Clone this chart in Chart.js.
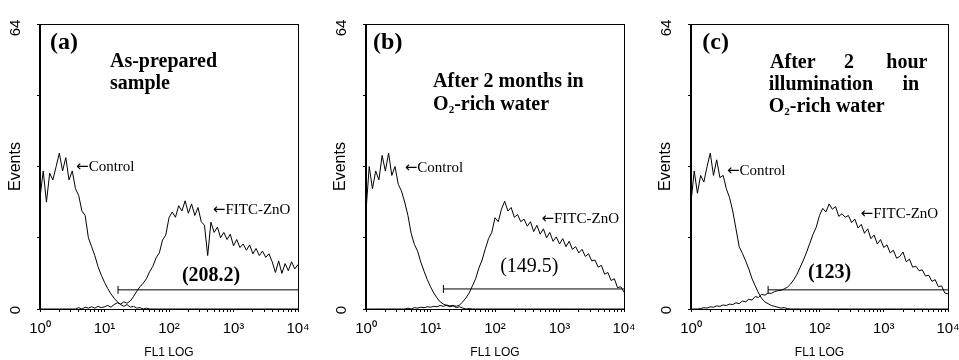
<!DOCTYPE html>
<html>
<head>
<meta charset="utf-8">
<title>FITC-ZnO flow cytometry</title>
<script src="https://cdn.jsdelivr.net/npm/chart.js@4.4.1/dist/chart.umd.min.js"></script>
<style>
  html, body { margin: 0; padding: 0; background: #fff; }
  body { width: 959px; height: 360px; overflow: hidden; position: relative; }
  .panel { position: absolute; top: 0; width: 320px; height: 360px; }
</style>
</head>
<body>
<div class="panel" style="left:0px"><canvas id="panel-a" width="320" height="360"></canvas></div>
<div class="panel" style="left:325px"><canvas id="panel-b" width="320" height="360"></canvas></div>
<div class="panel" style="left:650px"><canvas id="panel-c" width="320" height="360"></canvas></div>
<script>
// FL1 channel positions, in decades (0 = 10^0 ... 4 = 10^4)
const fl1Log = [
  0.00, 0.05, 0.10, 0.15, 0.20, 0.25, 0.30, 0.35, 0.40, 0.45,
  0.50, 0.55, 0.60, 0.65, 0.70, 0.75, 0.80, 0.85, 0.90, 0.95,
  1.00, 1.05, 1.10, 1.15, 1.20, 1.25, 1.30, 1.35, 1.40, 1.45,
  1.50, 1.55, 1.60, 1.65, 1.70, 1.75, 1.80, 1.85, 1.90, 1.95,
  2.00, 2.05, 2.10, 2.15, 2.20, 2.25, 2.30, 2.35, 2.40, 2.45,
  2.50, 2.55, 2.60, 2.65, 2.70, 2.75, 2.80, 2.85, 2.90, 2.95,
  3.00, 3.05, 3.10, 3.15, 3.20, 3.25, 3.30, 3.35, 3.40, 3.45,
  3.50, 3.55, 3.60, 3.65, 3.70, 3.75, 3.80, 3.85, 3.90, 3.95,
  4.00
];
const decadeLabels = ['10⁰', '10¹', '10²', '10³', '10⁴'];
const eventTicks = [0, 16, 32, 48, 64];

// (a) as-prepared sample
const controlA = [
  25, 31, 24, 30.5, 29, 32, 35, 31, 34, 29,
  31, 27, 25.5, 22, 21, 16, 14, 12, 9.5, 7.6,
  6.0, 4.6, 3.4, 2.4, 1.6, 1.0, 0.6, 1.0, 0.4, 0.6,
  0.2, 0.3, 0, 0.2, 0, 0, 0, 0, 0, 0,
  0, 0, 0, 0, 0, 0, 0, 0, 0, 0,
  0, 0, 0, 0, 0, 0, 0, 0, 0, 0,
  0, 0, 0, 0, 0, 0, 0, 0, 0, 0,
  0, 0, 0, 0, 0, 0, 0, 0, 0, 0,
  0
];
const fitcA = [
  0, 0, 0, 0, 0, 0, 0, 0, 0, 0,
  0, 0, 0.3, 0, 0.4, 0.2, 0.5, 0.2, 0.6, 0.3,
  0.5, 0.8, 0.4, 1.0, 1.4, 1.1, 1.6, 1.3, 1.8, 2.8,
  4.0, 5.0, 5.8, 6.8, 8.4, 9.6, 11.5, 12.6, 15.5, 16.6,
  20.5, 21.8, 20.6, 23.2, 22.0, 24.3, 21.5, 23.6, 21.0, 22.8,
  19.6, 18.8, 12.0, 19.5, 17.2, 18.4, 16.0, 17.2, 15.6, 16.8,
  14.2, 15.6, 13.8, 14.6, 13.2, 14.4, 12.4, 13.6, 12.0, 13.0,
  11.6, 12.4, 10.6, 8.2, 10.8, 8.0, 10.2, 8.6, 10.6, 9.0,
  10.0
];

// (b) after 2 months in O2-rich water
const controlB = [
  22, 32, 27, 31, 29, 34.5, 31, 35, 30, 32,
  28, 26.5, 24, 21, 17, 14.5, 13, 10.5, 8.5, 6.6,
  5.0, 3.6, 2.5, 1.6, 1.1, 0.8, 0.5, 0.7, 0.3, 0.5,
  0.2, 0, 0.1, 0, 0, 0, 0, 0, 0, 0,
  0, 0, 0, 0, 0, 0, 0, 0, 0, 0,
  0, 0, 0, 0, 0, 0, 0, 0, 0, 0,
  0, 0, 0, 0, 0, 0, 0, 0, 0, 0,
  0, 0, 0, 0, 0, 0, 0, 0, 0, 0,
  0
];
const fitcB = [
  0, 0, 0, 0, 0, 0, 0, 0, 0, 0,
  0, 0, 0, 0.2, 0, 0.3, 0.2, 0.4, 0.3, 0.5,
  0.4, 0.6, 0.5, 0.8, 0.6, 0.9, 0.7, 0.8, 0.6, 0.9,
  1.6, 2.5, 3.6, 5.2, 6.8, 9.2, 11.0, 13.5, 15.8, 17.2,
  20.5, 19.6, 22.4, 24.2, 22.0, 22.8, 20.6, 21.2, 19.6, 20.2,
  18.6, 19.6, 17.4, 18.8, 16.8, 18.0, 16.0, 17.2, 15.2, 16.2,
  14.6, 15.8, 14.0, 15.2, 13.4, 14.0, 12.6, 13.4, 11.8, 12.4,
  10.8, 11.0, 9.4, 9.8, 7.8, 8.2, 6.4, 6.8, 4.8, 5.0,
  3.8
];

// (c) after 2 hour illumination in O2-rich water
const controlC = [
  24, 31, 26, 30, 28.5, 32, 35, 30, 33.5, 29.5,
  30, 27, 25, 22, 18, 14, 12.5, 10.8, 9.0, 6.8,
  5.2, 3.6, 2.4, 1.6, 1.2, 0.8, 0.6, 0.4, 0.2, 0.3,
  0.1, 0, 0, 0, 0, 0, 0, 0, 0, 0,
  0, 0, 0, 0, 0, 0, 0, 0, 0, 0,
  0, 0, 0, 0, 0, 0, 0, 0, 0, 0,
  0, 0, 0, 0, 0, 0, 0, 0, 0, 0,
  0, 0, 0, 0, 0, 0, 0, 0, 0, 0,
  0
];
const fitcC = [
  0, 0, 0, 0.1, 0.3, 0.2, 0.5, 0.4, 0.7, 0.6,
  0.9, 0.8, 1.1, 1.0, 1.4, 1.2, 1.8, 1.6, 2.2, 2.0,
  2.8, 2.6, 3.3, 3.1, 3.6, 3.5, 3.9, 4.1, 4.2, 4.5,
  4.9, 5.6, 6.6, 7.8, 9.4, 11.0, 12.8, 14.8, 16.8, 18.4,
  21.0, 22.6, 21.8, 23.6, 22.4, 23.0, 20.8, 21.4, 20.6, 21.0,
  19.4, 20.2, 18.2, 19.0, 17.0, 18.0, 15.8, 16.6, 14.6, 15.6,
  13.8, 14.4, 12.6, 13.2, 11.4, 11.8, 12.8, 10.6, 11.2, 9.4,
  9.6, 8.6, 8.8, 7.4, 7.6, 6.2, 6.6, 5.0, 5.2, 3.6,
  3.4
];

// M1 gate markers: start (decades), height (events), mean value label
const gateStart = [1.21, 1.2, 1.2];
const gateLevel = [4.3, 4.5, 4.3];
const gateLabels = ['(208.2)', '(149.5)', '(123)'];

const serifBold = (size) => `bold ${size}px "Liberation Serif"`;
const serif = (size) => `${size}px "Liberation Serif"`;
const sans = 'Liberation Sans';
const arrowFont = '15px "DejaVu Sans"';

const panels = [
  {
    id: 'panel-a', left: 40, right: 22, control: controlA, fitc: fitcA,
    notes: [
      { text: ['(a)'], x: 0.155, y: 59.7, font: serifBold(24) },
      { text: ['As-prepared'], x: 1.085, y: 55.5, font: serifBold(20) },
      { text: ['sample'], x: 1.085, y: 50.5, font: serifBold(20) },
      { text: ['←', 'Control'], x: 0.56, y: 31.9, font: serif(15) },
      { text: ['←', 'FITC-ZnO'], x: 2.68, y: 22.2, font: serif(15) },
      { text: [gateLabels[0]], x: 2.2, y: 7.4, font: serifBold(20) }
    ]
  },
  {
    id: 'panel-b', left: 41, right: 21, control: controlB, fitc: fitcB,
    notes: [
      { text: ['(b)'], x: 0.11, y: 59.7, font: serifBold(24) },
      { text: ['After 2 months in'], x: 1.04, y: 51, font: serifBold(20) },
      { text: ['O', '_2', '-rich water'], x: 1.04, y: 45.8, font: serifBold(20) },
      { text: ['←', 'Control'], x: 0.6, y: 31.7, font: serif(15) },
      { text: ['←', 'FITC-ZnO'], x: 2.72, y: 20.2, font: serif(15) },
      { text: [gateLabels[1]], x: 2.08, y: 9.4, font: serif(20) }
    ]
  },
  {
    id: 'panel-c', left: 41, right: 22, control: controlC, fitc: fitcC,
    notes: [
      { text: ['(c)'], x: 0.175, y: 59.7, font: serifBold(24) },
      { text: ['After'], x: 1.23, y: 55.2, font: serifBold(20) },
      { text: ['2'], x: 2.38, y: 55.2, font: serifBold(20) },
      { text: ['hour'], x: 3.04, y: 55.2, font: serifBold(20) },
      { text: ['illumination'], x: 1.21, y: 50.3, font: serifBold(20) },
      { text: ['in'], x: 3.29, y: 50.3, font: serifBold(20) },
      { text: ['O', '_2', '-rich water'], x: 1.21, y: 45.4, font: serifBold(20) },
      { text: ['←', 'Control'], x: 0.56, y: 31, font: serif(15) },
      { text: ['←', 'FITC-ZnO'], x: 2.64, y: 21.3, font: serif(15) },
      { text: [gateLabels[2]], x: 1.82, y: 8.1, font: serifBold(20) }
    ]
  }
];

// frame, rotated 0/64 labels and the text notes
const notesPlugin = {
  id: 'flowNotes',
  afterDatasetsDraw(chart, args, opts) {
    const { ctx, chartArea, scales } = chart;
    ctx.save();
    ctx.strokeStyle = '#000';
    ctx.lineWidth = 1;
    ctx.strokeRect(chartArea.left + 0.5, chartArea.top + 0.5, chartArea.width, chartArea.height);
    ctx.lineWidth = 2;
    ctx.beginPath();
    ctx.moveTo(chartArea.left, chartArea.top);
    ctx.lineTo(chartArea.left, chartArea.bottom + 1);
    ctx.stroke();

    ctx.fillStyle = '#000';
    ctx.font = `15px "${sans}"`;
    ctx.textAlign = 'center';
    ctx.textBaseline = 'middle';
    [[64, 4], [0, 1]].forEach(([v, shift]) => {
      ctx.save();
      ctx.translate(chartArea.left - 24, scales.y.getPixelForValue(v) + shift);
      ctx.rotate(-Math.PI / 2);
      ctx.fillText(String(v), 0, 0);
      ctx.restore();
    });

    ctx.textAlign = 'left';
    opts.items.forEach(note => {
      let x = scales.x.getPixelForValue(note.x);
      const y = scales.y.getPixelForValue(note.y);
      note.text.forEach(part => {
        let str = part;
        let dy = 0;
        if (part === '←') {
          ctx.font = arrowFont;
        } else if (part.startsWith('_')) {
          str = part.slice(1);
          dy = 5;
          ctx.font = note.font.replace(/\d+px/, '11px');
        } else {
          ctx.font = note.font;
        }
        ctx.fillText(str, x, y + dy);
        x += ctx.measureText(str).width;
      });
    });
    ctx.restore();
  }
};

function points(series) {
  return fl1Log.map((v, i) => ({ x: v, y: series[i] }));
}

panels.forEach((p, idx) => {
  const line = (data) => ({
    data, borderColor: '#000', borderWidth: 1, pointRadius: 0, tension: 0, fill: false
  });
  new Chart(document.getElementById(p.id), {
    type: 'line',
    data: {
      datasets: [
        line(points(p.control)),
        line(points(p.fitc)),
        {
          data: [{ x: gateStart[idx], y: gateLevel[idx] }, { x: 4, y: gateLevel[idx] }],
          borderColor: '#000', borderWidth: 1,
          pointStyle: 'line', rotation: 90, pointRadius: [4, 0],
          pointBorderColor: '#000', pointBorderWidth: 1
        }
      ]
    },
    options: {
      responsive: false,
      animation: false,
      events: [],
      layout: { padding: { top: 24, right: p.right, left: 0, bottom: 0 } },
      plugins: {
        legend: { display: false },
        tooltip: { enabled: false },
        flowNotes: { items: p.notes }
      },
      scales: {
        x: {
          type: 'linear', min: 0, max: 4,
          afterBuildTicks: (scale) => {
            const ticks = [];
            for (let d = 0; d < 4; d++) {
              ticks.push({ value: d });
              for (let m = 2; m <= 9; m++) ticks.push({ value: d + Math.log10(m) });
            }
            ticks.push({ value: 4 });
            scale.ticks = ticks;
          },
          afterFit: (scale) => { scale.height = 51; },
          grid: { drawOnChartArea: false, drawTicks: true, tickLength: 3, color: '#000' },
          border: { color: '#000', width: 1 },
          ticks: {
            autoSkip: false, maxRotation: 0, minRotation: 0, padding: 8, color: '#000',
            font: { family: sans, size: 15 },
            callback: (v) => Number.isInteger(v) ? decadeLabels[v] : ''
          },
          title: {
            display: true, text: 'FL1 LOG', color: '#000',
            font: { family: sans, size: 12 }, padding: { top: 0, bottom: 0 }
          }
        },
        y: {
          min: 0, max: 64,
          afterBuildTicks: (scale) => { scale.ticks = eventTicks.map(v => ({ value: v })); },
          afterFit: (scale) => { scale.width = p.left; },
          grid: { drawOnChartArea: false, drawTicks: true, tickLength: 3, color: '#000' },
          border: { color: '#000', width: 1 },
          ticks: { display: false },
          title: {
            display: true, text: 'Events', color: '#000',
            font: { family: sans, size: 16 }, padding: { top: 6, bottom: 0 }
          }
        }
      }
    },
    plugins: [notesPlugin]
  });
});
</script>
</body>
</html>
